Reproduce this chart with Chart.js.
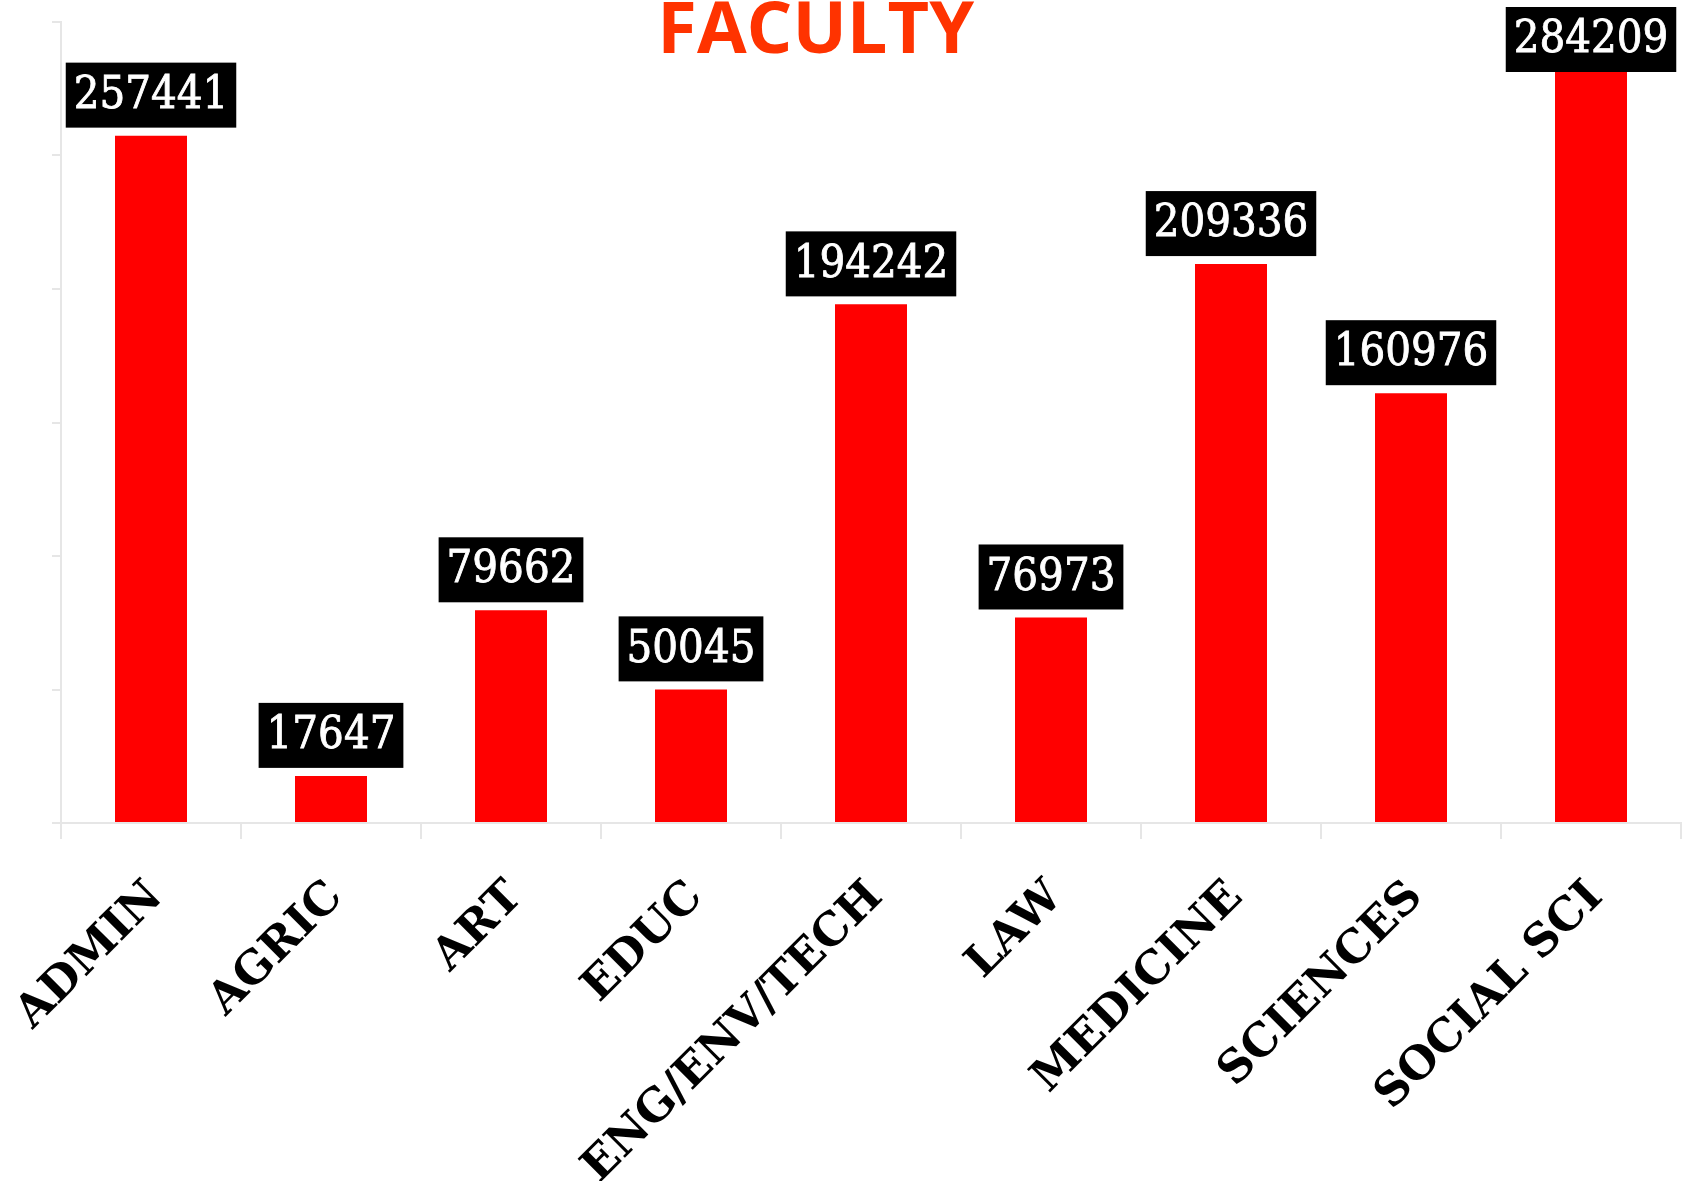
<!DOCTYPE html>
<html>
<head>
<meta charset="utf-8">
<script src="https://cdn.jsdelivr.net/npm/chart.js@4"></script>
<style>
html,body{margin:0;padding:0;background:#fff;}
#c{display:block;}
</style>
</head>
<body>
<canvas id="c" width="1682" height="1181"></canvas>
<script>
const chartTitle = 'FACULTY';
const categories = ['ADMIN','AGRIC','ART','EDUC','ENG/ENV/TECH','LAW','MEDICINE','SCIENCES','SOCIAL SCI'];
const values = [257441, 17647, 79662, 50045, 194242, 76973, 209336, 160976, 284209];
const yMin = 0, yMax = 300000, yStep = 50000;

function pickValueFont(ctx) {
  const cand = '45px "DejaVu Serif Condensed", monospace';
  ctx.font = cand;
  const a = ctx.measureText('2574410').width;
  ctx.font = '45px monospace';
  const b = ctx.measureText('2574410').width;
  return Math.abs(a - b) > 0.5 ? cand : '42px "DejaVu Serif", serif';
}

const labelPlugin = {
  id: 'valueBoxes',
  afterDatasetsDraw(chart) {
    const ctx = chart.ctx;
    const meta = chart.getDatasetMeta(0);
    ctx.save();
    ctx.font = pickValueFont(ctx);
    ctx.textAlign = 'center';
    ctx.textBaseline = 'middle';
    meta.data.forEach((bar, i) => {
      const txt = String(values[i]);
      const w = ctx.measureText(txt).width + 16;
      const h = 65;
      let top = bar.y - 8 - h;
      if (top < 7) top = 7;
      ctx.fillStyle = '#000';
      ctx.fillRect(bar.x - w / 2, top, w, h);
      ctx.fillStyle = '#fff';
      ctx.strokeStyle = '#fff';
      ctx.lineWidth = 0.8;
      ctx.fillText(txt, bar.x, top + h / 2 + 1);
      ctx.strokeText(txt, bar.x, top + h / 2 + 1);
    });
    ctx.restore();
  },
  afterDraw(chart) {
    const ctx = chart.ctx;
    ctx.save();
    ctx.font = 'bold 72px "Open Sans"';
    ctx.fillStyle = '#FF3300';
    ctx.textAlign = 'center';
    ctx.textBaseline = 'alphabetic';
    ctx.fillText(chartTitle, chart.width * 0.485, 53);
    ctx.restore();
  }
};

new Chart(document.getElementById('c'), {
  type: 'bar',
  data: {
    labels: categories,
    datasets: [{
      data: values,
      backgroundColor: '#FF0000',
      borderWidth: 0,
      categoryPercentage: 1.0,
      barPercentage: 0.4
    }]
  },
  options: {
    responsive: false,
    devicePixelRatio: 1,
    animation: false,
    layout: { padding: { top: 22, right: 1, left: 0, bottom: 0 } },
    plugins: { legend: { display: false }, tooltip: { enabled: false }, title: { display: false } },
    scales: {
      x: {
        offset: true,
        grid: { offset: true, drawOnChartArea: false, drawTicks: true, tickLength: 16, color: '#e6e6e6', lineWidth: 2 },
        border: { display: true, color: '#e6e6e6', width: 2 },
        ticks: {
          autoSkip: false,
          minRotation: 45,
          maxRotation: 45,
          padding: 32,
          labelOffset: 5,
          color: '#000',
          font: { family: '"DejaVu Serif", serif', weight: 'bold', size: 45 }
        },
        afterFit(scale) { scale.height = 358; scale.paddingLeft = 0; scale.paddingRight = 0; }
      },
      y: {
        min: yMin,
        max: yMax,
        grid: { drawOnChartArea: false, drawTicks: true, tickLength: 9, color: '#e6e6e6', lineWidth: 2 },
        border: { display: true, color: '#e6e6e6', width: 2 },
        ticks: { display: false, stepSize: yStep },
        afterFit(scale) { scale.width = 61; }
      }
    }
  },
  plugins: [labelPlugin]
});
</script>
</body>
</html>
